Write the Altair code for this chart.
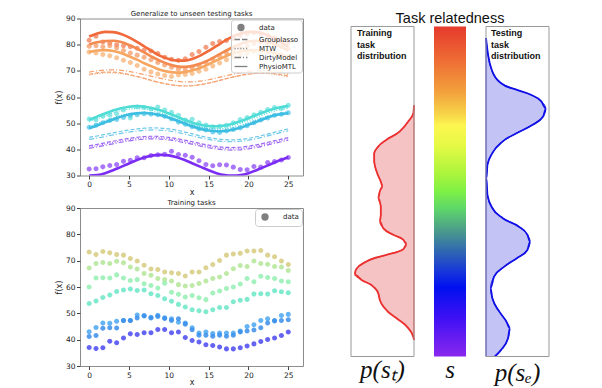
import altair as alt
import pandas as pd

# ---------------- x positions ----------------
x_pts = [0.0, 0.86, 1.72, 2.59, 3.45, 4.31, 5.17, 6.03, 6.9, 7.76, 8.62, 9.48, 10.34, 11.21, 12.07,
         12.93, 13.79, 14.66, 15.52, 16.38, 17.24, 18.1, 18.97, 19.83, 20.69, 21.55, 22.41, 23.28, 24.14, 25.0]
x_fit = [0, 1, 2, 3, 4, 5, 6, 7, 8, 9, 10, 11, 12, 13, 14, 15, 16, 17, 18, 19, 20, 21, 22, 23, 24, 25]
x_ticks = [0, 5, 10, 15, 20, 25]
y_ticks = [30, 40, 50, 60, 70, 80, 90]

# ---------------- testing tasks (top panel) ----------------
test_o1 = [81.7, 83.2, 81.0, 80.6, 80.0, 79.6, 79.2, 78.6, 78.0, 77.6, 76.6, 75.2, 74.4, 74.0, 74.6,
           76.2, 77.4, 79.0, 80.4, 81.2, 81.6, 82.4, 83.6, 84.2, 84.6, 84.2, 83.4, 82.6, 81.6, 80.8]
test_o2 = [79.4, 79.6, 79.2, 79.6, 78.8, 77.8, 76.8, 76.0, 75.2, 74.2, 73.2, 72.2, 71.4, 70.6, 70.4,
           71.2, 72.0, 73.2, 74.4, 75.6, 76.8, 78.0, 78.8, 79.6, 80.4, 80.8, 80.4, 80.0, 79.2, 78.4]
test_o3 = [77.2, 76.8, 76.2, 75.8, 75.0, 74.0, 73.2, 72.0, 70.6, 69.6, 68.8, 68.2, 67.8, 68.4, 68.6,
           69.0, 69.8, 70.6, 71.8, 73.0, 74.2, 75.2, 76.0, 76.8, 77.4, 77.6, 77.2, 76.6, 76.0, 75.4]
test_t1 = [51.6, 51.2, 52.6, 53.0, 53.6, 55.0, 52.0, 56.2, 56.0, 55.4, 56.2, 55.0, 54.2, 53.0, 51.2,
           51.5, 50.2, 49.3, 48.6, 48.8, 49.2, 50.2, 51.4, 52.2, 53.2, 54.2, 55.2, 56.0, 55.6, 56.8]
test_t2 = [48.4, 49.2, 50.2, 51.0, 51.4, 52.2, 53.0, 53.2, 53.6, 53.4, 53.2, 52.6, 51.6, 50.4, 49.6,
           48.6, 47.8, 47.4, 46.6, 46.4, 47.0, 47.6, 48.2, 49.0, 50.2, 51.2, 52.0, 53.0, 53.4, 54.0]
test_p1 = [32.5, 32.6, 33.3, 33.8, 34.2, 35.4, 35.8, 36.8, 36.8, 37.6, 37.9, 38.1, 39.3, 38.0, 37.7,
           37.0, 35.6, 34.2, 33.7, 34.1, 34.0, 33.2, 32.3, 32.2, 33.4, 33.2, 35.0, 35.3, 35.9, 36.9]

# PhysioMTL fits
physio_o1 = [83.1, 84.3, 84.9, 84.8, 84.1, 82.8, 81.1, 79.2, 77.3, 75.6, 74.5, 73.9, 73.9, 74.6, 75.9, 77.6,
             79.5, 81.4, 83.1, 84.3, 84.9, 84.8, 84.1, 82.8, 81.1, 79.2]
physio_o2 = [80.1, 80.9, 81.4, 81.5, 81.0, 79.9, 78.5, 76.9, 75.2, 73.7, 72.5, 71.7, 71.5, 71.9, 72.8, 74.1,
             75.7, 77.4, 79.0, 80.3, 81.2, 81.5, 81.3, 80.5, 79.3, 77.7]
physio_o3 = [77.1, 77.8, 77.9, 77.6, 76.8, 75.6, 74.3, 72.8, 71.5, 70.3, 69.6, 69.3, 69.5, 70.2, 71.2, 72.5,
             74.0, 75.4, 76.6, 77.4, 77.9, 77.9, 77.6, 77.0, 76.2, 75.4]
physio_t1 = [51.3, 52.5, 53.7, 54.8, 55.7, 56.3, 56.5, 56.3, 55.7, 54.8, 53.7, 52.5, 51.3, 50.2, 49.4, 48.9,
             48.8, 49.1, 49.8, 50.7, 51.9, 53.1, 54.3, 55.3, 56.1, 56.5]
physio_t2 = [48.1, 49.1, 50.3, 51.4, 52.5, 53.3, 53.8, 53.9, 53.6, 53.0, 52.1, 51.0, 49.8, 48.7, 47.8, 47.2,
             46.9, 47.0, 47.5, 48.3, 49.4, 50.5, 51.7, 52.7, 53.4, 53.8]
physio_p1 = [30.0, 30.2, 30.9, 32.0, 33.3, 34.6, 35.9, 37.0, 37.7, 37.9, 37.7, 37.0, 35.9, 34.6, 33.3, 32.0,
             30.9, 30.2, 30.0, 30.2, 30.9, 32.0, 33.3, 34.6, 35.9, 37.0]

# baseline methods
grouplasso_o = [68.7, 69.2, 69.5, 69.5, 69.2, 68.6, 67.9, 67.1, 66.2, 65.4, 64.8, 64.4, 64.2, 64.3, 64.7, 65.3,
                66.0, 66.8, 67.6, 68.3, 68.8, 69.1, 69.2, 69.0, 68.6, 68.0]
mtw_o = [68.4, 68.9, 69.2, 69.2, 68.9, 68.4, 67.7, 66.9, 66.1, 65.4, 64.8, 64.4, 64.3, 64.4, 64.8, 65.4,
         66.1, 66.9, 67.6, 68.2, 68.7, 69.0, 69.0, 68.8, 68.3, 67.7]
dirty_o = [69.5, 70.0, 70.3, 70.4, 70.2, 69.8, 69.2, 68.5, 67.8, 67.1, 66.5, 66.0, 65.8, 65.8, 66.1, 66.6,
           67.3, 68.0, 68.7, 69.3, 69.8, 70.1, 70.1, 69.9, 69.4, 68.7]
grouplasso_t = [44.6, 45.1, 45.7, 46.3, 46.9, 47.4, 47.8, 48.1, 48.2, 48.1, 47.8, 47.3, 46.6, 45.9, 45.1, 44.5,
                44.0, 43.7, 43.6, 43.8, 44.2, 44.8, 45.5, 46.3, 47.1, 47.8]
dirty_t = [43.8, 44.3, 44.9, 45.5, 46.1, 46.6, 47.0, 47.3, 47.4, 47.3, 47.0, 46.5, 45.8, 45.1, 44.4, 43.8,
           43.3, 43.0, 42.9, 43.1, 43.5, 44.1, 44.8, 45.6, 46.4, 47.1]
mtw_t1 = [50.6, 51.7, 52.8, 53.9, 54.8, 55.4, 55.6, 55.4, 54.8, 53.9, 52.8, 51.6, 50.5, 49.4, 48.6, 48.1,
          48.0, 48.3, 49.0, 49.9, 51.0, 52.2, 53.4, 54.4, 55.2, 55.6]
mtw_t2 = [48.8, 49.8, 50.9, 52.0, 53.0, 53.7, 54.1, 54.2, 53.9, 53.3, 52.4, 51.4, 50.3, 49.3, 48.5, 47.9,
          47.7, 47.8, 48.3, 49.1, 50.1, 51.2, 52.3, 53.2, 53.9, 54.3]
grouplasso_p = [41.4, 41.9, 42.5, 43.1, 43.7, 44.2, 44.6, 44.9, 45.0, 44.9, 44.6, 44.1, 43.5, 42.9, 42.2, 41.6,
                41.1, 40.8, 40.7, 40.8, 41.2, 41.7, 42.4, 43.1, 43.8, 44.5]
mtw_p = [40.9, 41.4, 42.0, 42.6, 43.2, 43.7, 44.1, 44.4, 44.5, 44.4, 44.1, 43.6, 43.0, 42.4, 41.7, 41.1,
         40.6, 40.3, 40.2, 40.3, 40.7, 41.2, 41.9, 42.6, 43.3, 44.0]
dirty_p = [40.4, 40.9, 41.5, 42.1, 42.7, 43.2, 43.6, 43.9, 44.0, 43.9, 43.6, 43.1, 42.5, 41.9, 41.2, 40.6,
           40.1, 39.8, 39.7, 39.8, 40.2, 40.7, 41.4, 42.1, 42.8, 43.5]

# ---------------- training tasks (bottom panel) ----------------
train_khaki = [73.3, 72.3, 73.5, 73.0, 72.3, 72.1, 70.8, 69.9, 68.3, 66.8, 66.6, 65.7, 65.4, 65.1, 64.2,
               65.7, 65.7, 67.3, 68.5, 70.1, 72.1, 72.5, 72.8, 73.7, 73.7, 73.9, 72.1, 71.5, 69.9, 68.5]
train_lightgreen = [67.2, 68.9, 69.3, 68.9, 69.8, 69.2, 67.6, 66.8, 65.1, 64.5, 63.2, 62.8, 62.3, 60.9, 60.4,
                    60.6, 61.3, 62.3, 63.2, 63.8, 65.1, 66.9, 68.2, 67.8, 69.9, 68.9, 68.6, 67.8, 67.6, 66.3]
train_green = [60.0, 63.4, 63.5, 63.4, 64.6, 63.4, 62.5, 62.8, 61.2, 60.6, 59.6, 61.4, 58.0, 57.2, 56.2,
               56.8, 55.9, 55.2, 57.7, 58.5, 59.4, 60.0, 61.1, 63.2, 62.0, 64.1, 63.6, 63.2, 62.3, 62.0]
train_teal = [53.7, 54.7, 56.0, 57.0, 58.3, 58.9, 59.2, 58.7, 58.9, 57.4, 56.8, 55.5, 54.6, 53.4, 52.4,
              51.4, 51.0, 50.6, 51.4, 52.2, 52.2, 54.4, 55.0, 55.3, 57.3, 57.4, 57.3, 58.6, 58.2, 57.8]
train_blue1 = [43.0, 44.6, 46.3, 46.2, 47.0, 47.3, 47.3, 49.4, 49.2, 48.5, 49.3, 48.3, 47.9, 46.6, 46.3,
               44.5, 42.5, 42.9, 42.3, 42.5, 42.5, 42.5, 43.3, 45.0, 45.7, 47.3, 47.9, 47.3, 49.2, 49.6]
train_blue2 = [41.2, 41.6, 44.3, 44.5, 44.4, 47.3, 47.3, 48.2, 49.0, 48.2, 48.8, 48.0, 47.3, 47.9, 45.9,
               43.8, 41.7, 41.7, 41.3, 41.7, 41.3, 41.7, 42.9, 43.3, 43.7, 44.5, 46.3, 47.1, 47.3, 47.6]
train_violet = [37.0, 36.6, 36.9, 39.4, 38.8, 40.6, 42.2, 42.0, 42.6, 42.6, 43.9, 43.9, 42.6, 42.9, 40.8,
                39.7, 39.1, 38.1, 37.8, 37.2, 36.5, 36.5, 36.9, 37.6, 38.4, 39.3, 40.1, 40.6, 41.6, 42.9]

# ---------------- task relatedness densities ----------------
train_s = [0.05, 0.061, 0.086, 0.116, 0.146, 0.172, 0.192, 0.212, 0.232, 0.248, 0.263, 0.288, 0.308, 0.325,
           0.340, 0.354, 0.369, 0.389, 0.409, 0.429, 0.455, 0.48, 0.5, 0.515, 0.530, 0.561, 0.591, 0.616,
           0.636, 0.657, 0.682, 0.712, 0.737, 0.761]
train_density = [0.0, 0.013, 0.092, 0.278, 0.463, 0.543, 0.568, 0.648, 0.833, 0.94, 0.924, 0.754, 0.437, 0.171,
                 0.119, 0.171, 0.330, 0.489, 0.543, 0.527, 0.527, 0.568, 0.543, 0.5, 0.527, 0.595, 0.632, 0.632,
                 0.568, 0.437, 0.225, 0.092, 0.01, 0.0]
test_s = [0.0, 0.02, 0.055, 0.086, 0.106, 0.136, 0.177, 0.207, 0.242, 0.273, 0.298, 0.323, 0.348, 0.369, 0.394,
          0.419, 0.45, 0.49, 0.54, 0.581, 0.616, 0.652, 0.677, 0.702, 0.727, 0.751, 0.773, 0.793, 0.808, 0.828,
          0.864, 0.914, 0.965]
test_density = [0.14, 0.24, 0.35, 0.378, 0.323, 0.212, 0.10, 0.073, 0.128, 0.295, 0.49, 0.657, 0.70, 0.657,
                0.517, 0.267, 0.10, 0.023, 0.007, 0.023, 0.10, 0.267, 0.49, 0.74, 0.907, 0.95, 0.878, 0.712,
                0.49, 0.24, 0.10, 0.033, 0.0]

colorbar_offsets = [0.0, 0.10, 0.20, 0.27, 0.30, 0.36, 0.45, 0.50, 0.55, 0.62, 0.68, 0.74, 0.79, 0.88, 1.0]
colorbar_colors = ["#e53a2d", "#ee6b34", "#f2a23c", "#f8d84a", "#fdf650", "#e6fa45", "#a8f43c", "#7ef046",
                   "#5fd868", "#4a9a8c", "#3068b0", "#1838d8", "#0010f0", "#3c10f4", "#8a28ee"]

# ---------------- labels / styles ----------------
method_names = ["data", "Grouplasso", "MTW", "DirtyModel", "PhysioMTL"]
legend_shapes = [
    "M0.75,0A0.75,0.75,0,1,1,-0.75,0A0.75,0.75,0,1,1,0.75,0Z",
    "M-1.6,0L-0.25,0M0.25,0L1.6,0",
    "M-1.6,0L-1.35,0M-0.9,0L-0.65,0M-0.15,0L0.1,0M0.55,0L0.8,0M1.3,0L1.55,0",
    "M-1.6,0L0.0,0M0.5,0L0.75,0M1.25,0L1.6,0",
    "M-1.6,0L1.6,0",
]
line_methods = ["Grouplasso", "MTW", "DirtyModel", "PhysioMTL"]
line_dashes = [[4, 2], [1, 1.6], [5, 2, 1, 2], [1, 0]]

test_keys = ["O1", "O2", "O3", "T1", "T2", "P1", "Ob", "Tb", "Pb"]
test_colors = ["#f06a3b", "#f38a4f", "#f6a660", "#4fdcd6", "#3cbde2", "#7b2df4", "#f5a06e", "#6cc8e8", "#a06af2"]
train_keys = ["Kh", "LG", "Gr", "Te", "B1", "B2", "Vi"]
train_colors = ["#d6ca7e", "#b3e596", "#93eeb0", "#68e6c6", "#49a6f0", "#3a8eea", "#4a48ee"]

train_label = "Training\ntask\ndistribution"
test_label = "Testing\ntask\ndistribution"

# the right panels reserve a strip above the boxes (s from 1 to s_top)
s_top = 1.0242

# ---------------- tables ----------------
test_series = [("O1", test_o1), ("O2", test_o2), ("O3", test_o3), ("T1", test_t1), ("T2", test_t2), ("P1", test_p1)]
test_pts = pd.DataFrame([{"x": x, "y": v, "key": k, "method": "data"}
                         for k, vals in test_series for x, v in zip(x_pts, vals)])

fit_series = [
    ("pO1", "O1", "PhysioMTL", physio_o1), ("pO2", "O2", "PhysioMTL", physio_o2), ("pO3", "O3", "PhysioMTL", physio_o3),
    ("pT1", "T1", "PhysioMTL", physio_t1), ("pT2", "T2", "PhysioMTL", physio_t2), ("pP1", "P1", "PhysioMTL", physio_p1),
    ("gO", "Ob", "Grouplasso", grouplasso_o), ("mO", "Ob", "MTW", mtw_o), ("dO", "Ob", "DirtyModel", dirty_o),
    ("gT", "Tb", "Grouplasso", grouplasso_t), ("dT", "Tb", "DirtyModel", dirty_t),
    ("mT1", "T1", "MTW", mtw_t1), ("mT2", "T2", "MTW", mtw_t2),
    ("gP", "Pb", "Grouplasso", grouplasso_p), ("mP", "Pb", "MTW", mtw_p), ("dP", "Pb", "DirtyModel", dirty_p),
]
fits = pd.DataFrame([{"x": x, "y": v, "line": lid, "key": k, "method": m}
                     for lid, k, m, vals in fit_series for x, v in zip(x_fit, vals)])

train_series = [("Kh", train_khaki), ("LG", train_lightgreen), ("Gr", train_green), ("Te", train_teal),
                ("B1", train_blue1), ("B2", train_blue2), ("Vi", train_violet)]
train_pts = pd.DataFrame([{"x": x, "y": v, "key": k, "method": "data"}
                          for k, vals in train_series for x, v in zip(x_pts, vals)])

red_df = pd.DataFrame({"s": train_s, "d": train_density})
blue_df = pd.DataFrame({"s": test_s, "d": test_density})
box_df = pd.DataFrame({"d0": [0], "d1": [1], "s0": [0], "s1": [1]})

# ---------------- encodings ----------------
def x_enc():
    return alt.X("x:Q", scale=alt.Scale(domain=[-1.15, 26.85], nice=False, zero=False),
                 axis=alt.Axis(values=x_ticks, title="x", titlePadding=0, format="d"))


def y_enc():
    return alt.Y("y:Q", scale=alt.Scale(domain=[30, 90], nice=False, zero=False),
                 axis=alt.Axis(values=y_ticks, title="f(x)", titlePadding=2, format="d"))


legend_common = dict(title=None, orient="top-right", offset=1)
plot_title = dict(fontSize=7, font="DejaVu Sans", fontWeight="normal", color="#222", offset=-2)

top_points = alt.Chart(test_pts).mark_point(filled=True, size=45, opacity=0.65, strokeWidth=0).encode(
    x=x_enc(), y=y_enc(),
    color=alt.Color("key:N", scale=alt.Scale(domain=test_keys, range=test_colors), legend=None),
    shape=alt.Shape("method:N", scale=alt.Scale(domain=method_names, range=legend_shapes),
                    legend=alt.Legend(**legend_common)),
)
top_thin = alt.Chart(fits).transform_filter(alt.datum.method != "PhysioMTL").mark_line(
    strokeWidth=1.2, clip=True, interpolate="monotone").encode(
    x=x_enc(), y=y_enc(), detail="line:N",
    color=alt.Color("key:N", scale=alt.Scale(domain=test_keys, range=test_colors), legend=None),
    strokeDash=alt.StrokeDash("method:N", scale=alt.Scale(domain=line_methods, range=line_dashes), legend=None),
)
top_thick = alt.Chart(fits).transform_filter(alt.datum.method == "PhysioMTL").mark_line(
    strokeWidth=2.6, clip=True, interpolate="monotone").encode(
    x=x_enc(), y=y_enc(), detail="line:N",
    color=alt.Color("key:N", scale=alt.Scale(domain=test_keys, range=test_colors), legend=None),
)
top_chart = alt.layer(top_points, top_thin, top_thick).properties(
    width=223, height=157,
    title=alt.TitleParams("Generalize to unseen testing tasks", **plot_title),
)

bottom_chart = alt.Chart(train_pts).mark_point(filled=True, size=45, opacity=0.85, strokeWidth=0).encode(
    x=x_enc(), y=y_enc(),
    color=alt.Color("key:N", scale=alt.Scale(domain=train_keys, range=train_colors), legend=None),
    shape=alt.Shape("method:N", scale=alt.Scale(domain=["data"], range=legend_shapes[:1]),
                    legend=alt.Legend(**legend_common)),
).properties(
    width=223, height=158,
    title=alt.TitleParams("Training tasks", **plot_title),
)

left_col = alt.vconcat(top_chart, bottom_chart, spacing=1.5).resolve_scale(
    color="independent", shape="independent").resolve_legend(shape="independent")

# ---------------- right: relatedness panels ----------------
label_font = dict(font="Liberation Serif", fontStyle="italic", fontSize=25, fontWeight="normal",
                  color="#111", orient="bottom", offset=1)

s_scale = alt.Scale(domain=[0, s_top], nice=False, zero=False)
d_scale_rev = alt.Scale(domain=[0, 1], reverse=True, nice=False, zero=False)
d_scale = alt.Scale(domain=[0, 1], nice=False, zero=False)
box_style = dict(fillOpacity=0, stroke="#999999", strokeWidth=1)
ann_font = dict(align="left", baseline="top", font="Liberation Sans", fontWeight="bold", fontSize=9,
                lineHeight=11.5, lineBreak="\n", color="#111")


def density_panel(df, dscale, fill, edge, line_color, label, text_dx, title):
    area = alt.Chart(df).mark_area(orient="horizontal", interpolate="monotone", fill=fill,
                                   stroke=edge, strokeWidth=1).encode(
        y=alt.Y("s:Q", scale=s_scale, axis=None),
        x=alt.X("d:Q", scale=dscale, axis=None, stack=None),
    )
    line = alt.Chart(df).mark_line(orient="horizontal", interpolate="monotone", color=line_color,
                                   strokeWidth=1.8).encode(
        y=alt.Y("s:Q", scale=s_scale, axis=None),
        x=alt.X("d:Q", scale=dscale, axis=None),
        order="s:Q",
    )
    box = alt.Chart(box_df).mark_rect(**box_style).encode(
        x=alt.X("d0:Q", scale=dscale, axis=None), x2="d1:Q",
        y=alt.Y("s0:Q", scale=s_scale, axis=None), y2="s1:Q",
    )
    text = alt.Chart(pd.DataFrame({"label": [label], "s": [1.0]})).mark_text(dy=3, **ann_font).encode(
        text="label:N", x=alt.value(text_dx), y=alt.Y("s:Q", scale=s_scale, axis=None))
    return alt.layer(area, line, box, text).properties(
        width=63, height=338, view=alt.ViewBackground(strokeOpacity=0),
        title=alt.TitleParams(title, **label_font))


left_density = density_panel(red_df, d_scale_rev, "#f5c3c3", "#e53a36", "#ec3030", train_label, 6, "p(sₜ)")
right_density = density_panel(blue_df, d_scale, "#c3c3f5", "#1a1ae6", "#1010e6", test_label, 5, "p(sₑ)")

cbar = alt.Chart(box_df).mark_rect(
    fill=alt.LinearGradient(gradient="linear", x1=0, x2=0, y1=0, y2=1,
                            stops=[alt.GradientStop(offset=o, color=c)
                                   for o, c in zip(colorbar_offsets, colorbar_colors)])).encode(
    x=alt.X("d0:Q", scale=d_scale, axis=None), x2="d1:Q",
    y=alt.Y("s0:Q", scale=s_scale, axis=None), y2="s1:Q",
).properties(width=32, height=338, view=alt.ViewBackground(strokeOpacity=0),
             title=alt.TitleParams("s", **label_font))

right_group = alt.hconcat(left_density, cbar, right_density, spacing=16).properties(
    title=alt.TitleParams("Task relatedness", font="Liberation Sans", fontSize=14.5, fontWeight="normal",
                          color="#111", anchor="middle", offset=-8))

chart = alt.hconcat(left_col, right_group, spacing=46).properties(
    padding={"left": 46, "top": 0.5, "right": 5, "bottom": 0}
).configure(background="white").configure_view(stroke="#8c8c8c").configure_axis(
    labelFont="DejaVu Sans", labelFontSize=7.5, labelColor="#222", titleFont="DejaVu Sans",
    titleFontSize=8, titleColor="#222", titleFontWeight="normal", tickColor="#444", tickSize=3.5,
    domain=False, grid=False, labelPadding=1.5,
).configure_legend(
    labelFont="DejaVu Sans", labelFontSize=7, labelColor="#222", symbolStrokeColor="#7f7f7f",
    symbolFillColor="#7f7f7f", symbolStrokeWidth=1.3, symbolOpacity=1, symbolSize=64,
    fillColor="rgba(255,255,255,0.8)", strokeColor="#cccccc", cornerRadius=3, padding=3,
    rowPadding=1, labelOffset=13, symbolOffset=2,
)

chart.save("out.html", embed_options={"renderer": "svg", "actions": False})
